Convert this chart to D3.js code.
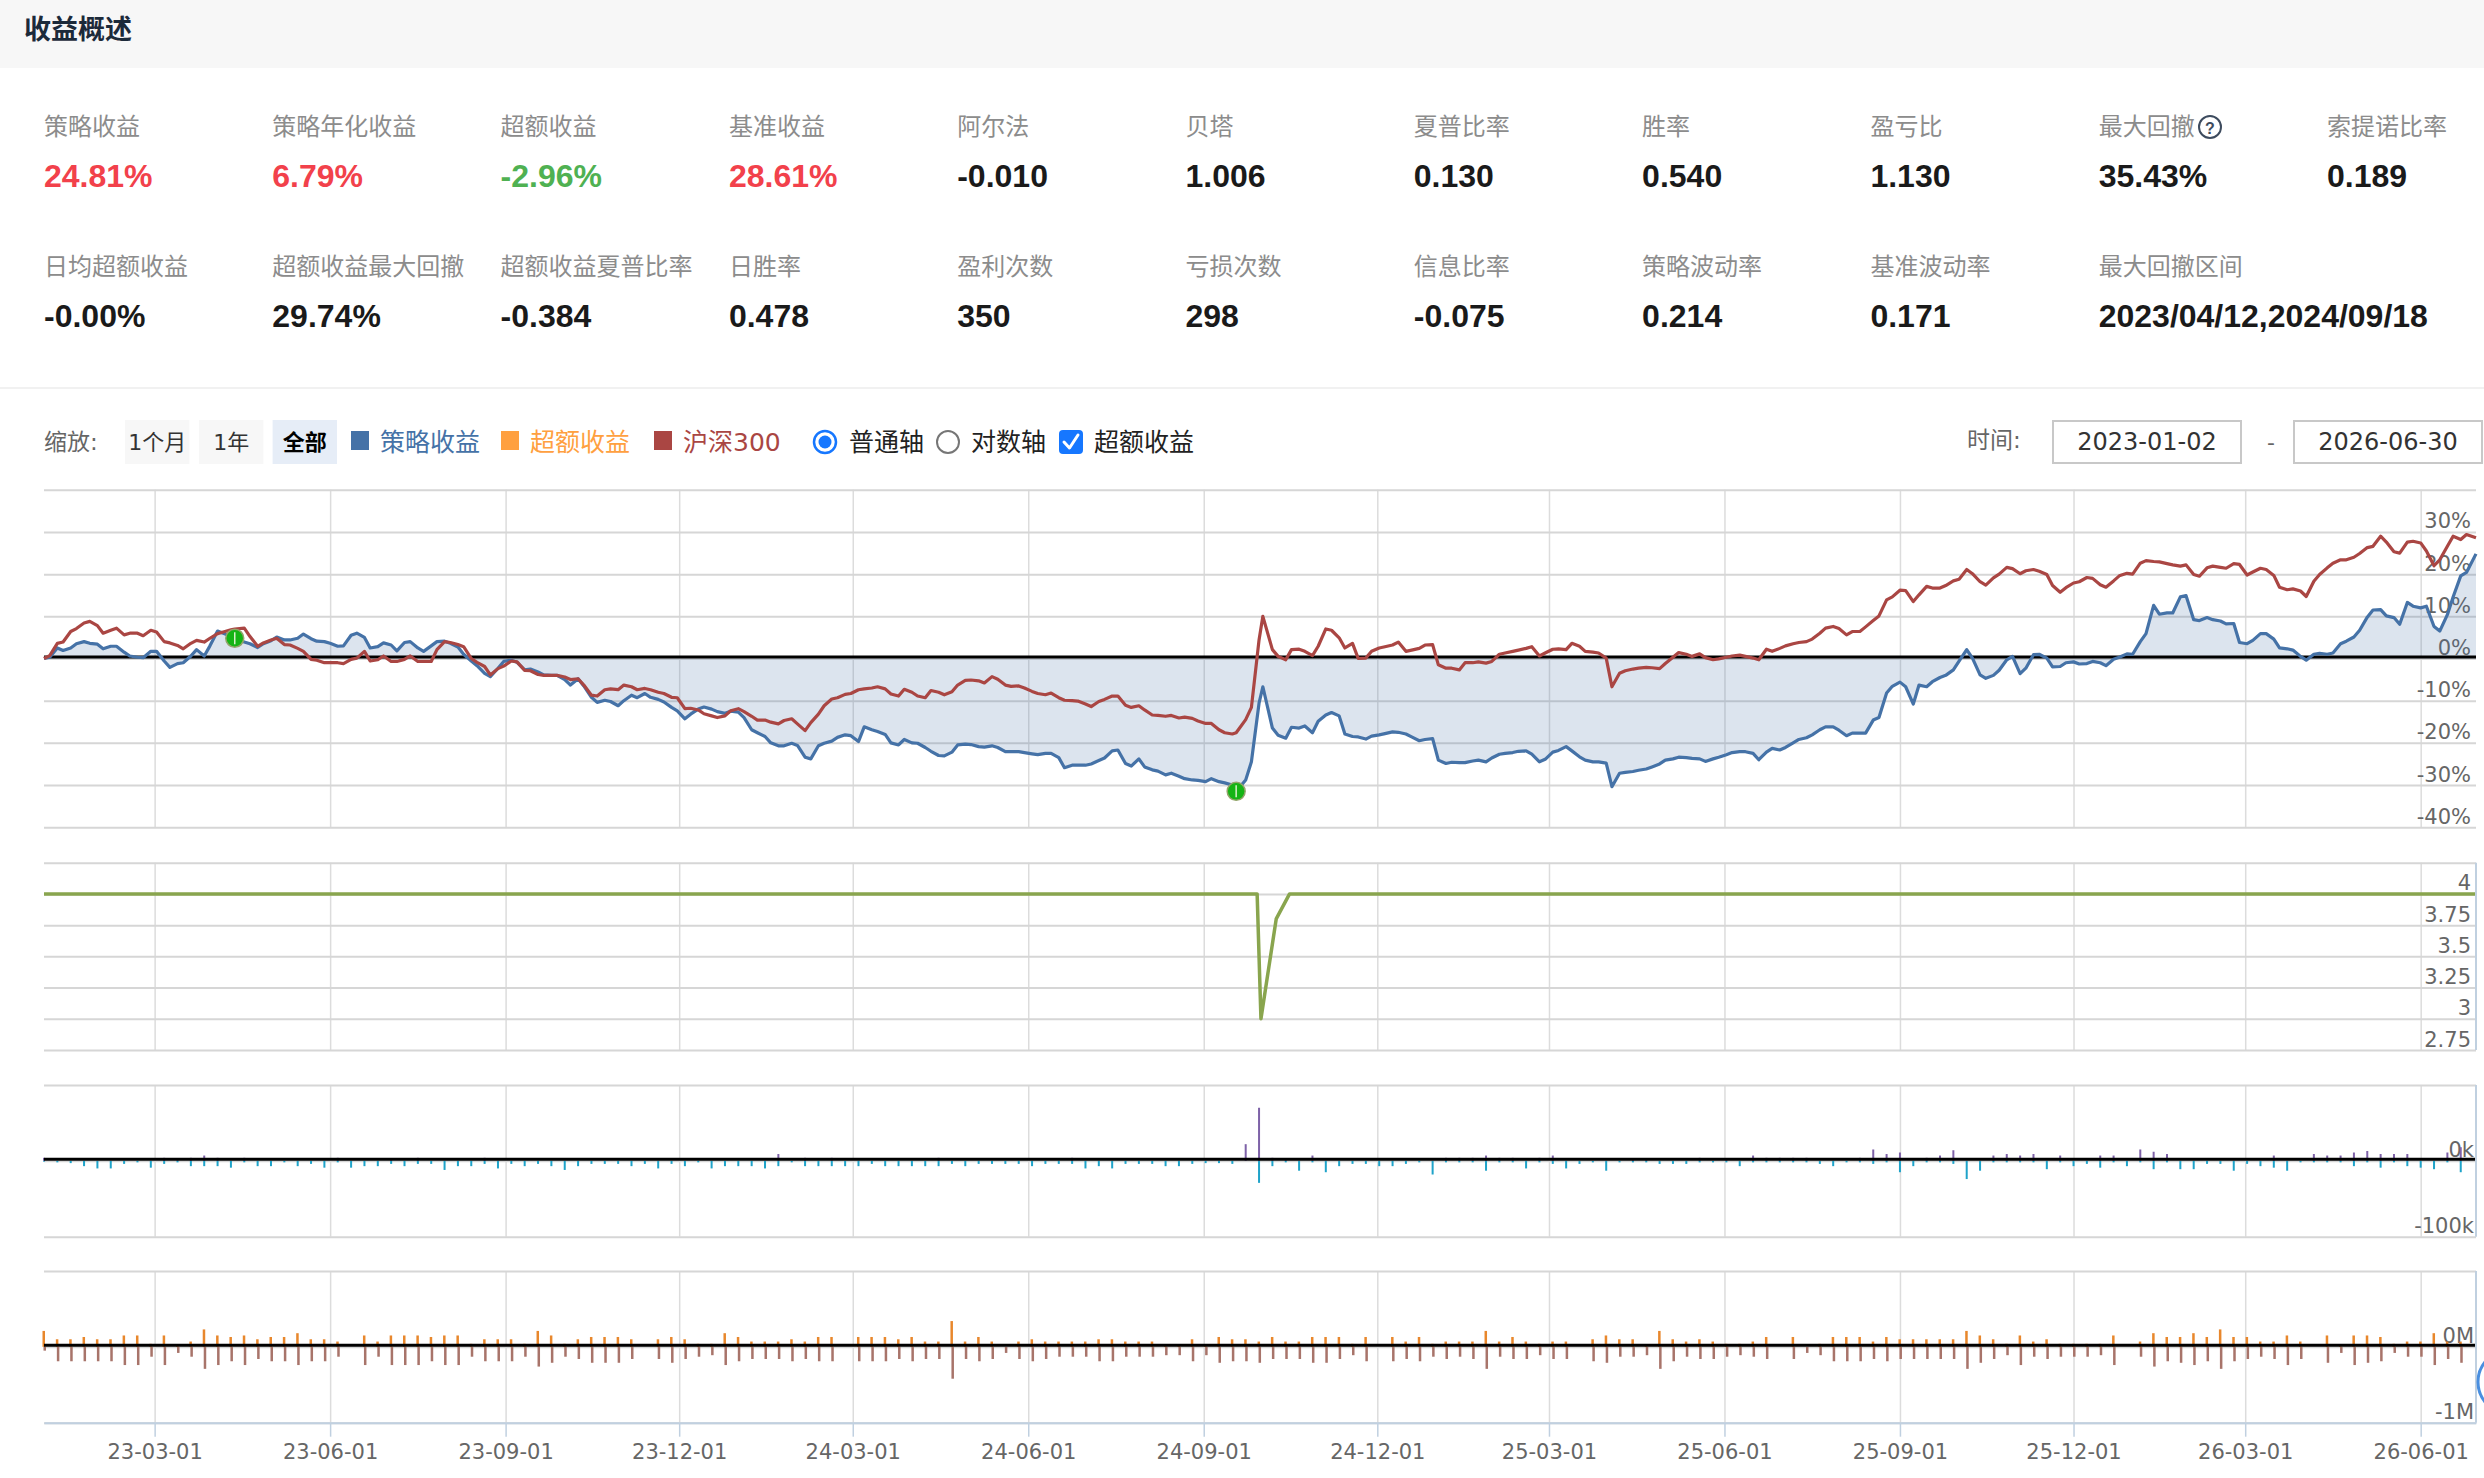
<!DOCTYPE html>
<html>
<head>
<meta charset="utf-8">
<title>收益概述</title>
<script src="https://d3js.org/d3.v7.min.js"></script>
<style>
  html, body { margin: 0; padding: 0; background: #fff; }
  svg { display: block; }
  .cjk { font-family: "Noto Sans CJK SC", "Noto Sans", sans-serif; }
  .num { font-family: "Liberation Sans", Arial, sans-serif; }
  .axis text { font-family: "DejaVu Sans", sans-serif; font-size: 21px; fill: #666; }
</style>
</head>
<body>
<svg id="chart" width="2484" height="1478"></svg>
<script>
// ---- summary metrics ----
var metricLabelsTop = ['策略收益','策略年化收益','超额收益','基准收益','阿尔法','贝塔','夏普比率','胜率','盈亏比','最大回撤','索提诺比率'];
var metricValuesTop = ['24.81%','6.79%','-2.96%','28.61%','-0.010','1.006','0.130','0.540','1.130','35.43%','0.189'];
var metricLabelsBottom = ['日均超额收益','超额收益最大回撤','超额收益夏普比率','日胜率','盈利次数','亏损次数','信息比率','策略波动率','基准波动率','最大回撤区间'];
var metricValuesBottom = ['-0.00%','29.74%','-0.384','0.478','350','298','-0.075','0.214','0.171','2023/04/12,2024/09/18'];

var zoomButtons = ['1个月','1年','全部'];
var legendNames = ['策略收益','超额收益','沪深300'];
var dateRange = ['2023-01-02','2026-06-30'];

// ---- return curves (twice a week) ----
var retDates = [
'2023-01-02','2023-01-05','2023-01-09','2023-01-12','2023-01-16','2023-01-19','2023-01-23','2023-01-26','2023-01-30',
'2023-02-02','2023-02-06','2023-02-09','2023-02-13','2023-02-16','2023-02-20','2023-02-23','2023-02-27',
'2023-03-02','2023-03-06','2023-03-09','2023-03-13','2023-03-16','2023-03-20','2023-03-23','2023-03-27','2023-03-30',
'2023-04-03','2023-04-06','2023-04-10','2023-04-12','2023-04-17','2023-04-20','2023-04-24','2023-04-27',
'2023-05-01','2023-05-04','2023-05-08','2023-05-11','2023-05-15','2023-05-18','2023-05-22','2023-05-25','2023-05-29',
'2023-06-01','2023-06-05','2023-06-08','2023-06-12','2023-06-15','2023-06-19','2023-06-22','2023-06-26','2023-06-29',
'2023-07-03','2023-07-06','2023-07-10','2023-07-13','2023-07-17','2023-07-20','2023-07-24','2023-07-27','2023-07-31',
'2023-08-03','2023-08-07','2023-08-10','2023-08-14','2023-08-17','2023-08-21','2023-08-24','2023-08-28','2023-08-31',
'2023-09-04','2023-09-07','2023-09-11','2023-09-14','2023-09-18','2023-09-21','2023-09-25','2023-09-28',
'2023-10-02','2023-10-05','2023-10-09','2023-10-12','2023-10-16','2023-10-19','2023-10-23','2023-10-26','2023-10-30',
'2023-11-02','2023-11-06','2023-11-09','2023-11-13','2023-11-16','2023-11-20','2023-11-23','2023-11-27','2023-11-30',
'2023-12-04','2023-12-07','2023-12-11','2023-12-14','2023-12-18','2023-12-21','2023-12-25','2023-12-28',
'2024-01-01','2024-01-04','2024-01-08','2024-01-11','2024-01-15','2024-01-18','2024-01-22','2024-01-25','2024-01-29',
'2024-02-01','2024-02-05','2024-02-08','2024-02-12','2024-02-15','2024-02-19','2024-02-22','2024-02-26','2024-02-29',
'2024-03-04','2024-03-07','2024-03-11','2024-03-14','2024-03-18','2024-03-21','2024-03-25','2024-03-28',
'2024-04-01','2024-04-04','2024-04-08','2024-04-11','2024-04-15','2024-04-18','2024-04-22','2024-04-25','2024-04-29',
'2024-05-02','2024-05-06','2024-05-09','2024-05-13','2024-05-16','2024-05-20','2024-05-23','2024-05-27','2024-05-30',
'2024-06-03','2024-06-06','2024-06-10','2024-06-13','2024-06-17','2024-06-20','2024-06-24','2024-06-27',
'2024-07-01','2024-07-04','2024-07-08','2024-07-11','2024-07-15','2024-07-18','2024-07-22','2024-07-25','2024-07-29',
'2024-08-01','2024-08-05','2024-08-08','2024-08-12','2024-08-15','2024-08-19','2024-08-22','2024-08-26','2024-08-29',
'2024-09-02','2024-09-05','2024-09-09','2024-09-12','2024-09-16','2024-09-18','2024-09-23','2024-09-26','2024-09-30',
'2024-10-02','2024-10-07','2024-10-10','2024-10-14','2024-10-17','2024-10-21','2024-10-24','2024-10-28','2024-10-31',
'2024-11-04','2024-11-07','2024-11-11','2024-11-14','2024-11-18','2024-11-21','2024-11-25','2024-11-28',
'2024-12-02','2024-12-05','2024-12-09','2024-12-12','2024-12-16','2024-12-19','2024-12-23','2024-12-26','2024-12-30',
'2025-01-02','2025-01-06','2025-01-09','2025-01-13','2025-01-16','2025-01-20','2025-01-23','2025-01-27','2025-01-30',
'2025-02-03','2025-02-06','2025-02-10','2025-02-13','2025-02-17','2025-02-20','2025-02-24','2025-02-27',
'2025-03-03','2025-03-06','2025-03-10','2025-03-13','2025-03-17','2025-03-20','2025-03-24','2025-03-27','2025-03-31',
'2025-04-03','2025-04-07','2025-04-10','2025-04-14','2025-04-17','2025-04-21','2025-04-24','2025-04-28',
'2025-05-01','2025-05-05','2025-05-08','2025-05-12','2025-05-15','2025-05-19','2025-05-22','2025-05-26','2025-05-29',
'2025-06-02','2025-06-05','2025-06-09','2025-06-12','2025-06-16','2025-06-19','2025-06-23','2025-06-26','2025-06-30',
'2025-07-03','2025-07-07','2025-07-10','2025-07-14','2025-07-17','2025-07-21','2025-07-24','2025-07-28','2025-07-31',
'2025-08-04','2025-08-07','2025-08-11','2025-08-14','2025-08-18','2025-08-21','2025-08-25','2025-08-28',
'2025-09-01','2025-09-04','2025-09-08','2025-09-11','2025-09-15','2025-09-18','2025-09-22','2025-09-25','2025-09-29',
'2025-10-02','2025-10-06','2025-10-09','2025-10-13','2025-10-16','2025-10-20','2025-10-23','2025-10-27','2025-10-30',
'2025-11-03','2025-11-06','2025-11-10','2025-11-13','2025-11-17','2025-11-20','2025-11-24','2025-11-27',
'2025-12-01','2025-12-04','2025-12-08','2025-12-11','2025-12-15','2025-12-18','2025-12-22','2025-12-25','2025-12-29',
'2026-01-01','2026-01-05','2026-01-08','2026-01-12','2026-01-15','2026-01-19','2026-01-22','2026-01-26','2026-01-29',
'2026-02-02','2026-02-05','2026-02-09','2026-02-12','2026-02-16','2026-02-19','2026-02-23','2026-02-26',
'2026-03-02','2026-03-05','2026-03-09','2026-03-12','2026-03-16','2026-03-19','2026-03-23','2026-03-26','2026-03-30',
'2026-04-02','2026-04-06','2026-04-09','2026-04-13','2026-04-16','2026-04-20','2026-04-23','2026-04-27','2026-04-30',
'2026-05-04','2026-05-07','2026-05-11','2026-05-14','2026-05-18','2026-05-21','2026-05-25','2026-05-28',
'2026-06-01','2026-06-04','2026-06-08','2026-06-11','2026-06-15','2026-06-18','2026-06-22','2026-06-25','2026-06-30'
];

// 策略收益 (%)
var strategy = [
0.0, 0.3, 2.5, 1.9, 2.5, 3.5, 4.0, 3.6, 3.4,
2.3, 2.9, 2.9, 1.5, 0.6, 0.3, 0.2, 1.7,
1.7, -0.6, -2.1, -1.2, -1.0, 0.6, 2.1, 0.6, 3.0,
6.5, 6.0, 5.3, 4.8, 3.9, 3.5, 2.6, 3.5,
4.2, 5.1, 4.4, 4.4, 4.8, 5.8, 4.7, 4.1, 4.0,
3.6, 2.9, 3.0, 5.5, 6.0, 5.0, 2.5, 2.8, 3.7,
3.2, 1.8, 3.8, 4.0, 2.5, 1.7, 3.0, 4.0, 4.1,
3.6, 2.7, 1.0, -0.6, -1.7, -3.5, -4.3, -2.3, -0.7,
-0.4, -0.9, -2.7, -2.5, -3.2, -3.9, -4.0, -4.0,
-5.0, -6.3, -4.8, -6.5, -9.2, -10.4, -9.9, -10.2, -11.2,
-10.0, -8.7, -9.3, -8.3, -9.2, -9.7, -10.3, -11.6, -12.4,
-14.3, -13.2, -12.0, -11.5, -12.0, -12.6, -13.0, -12.5,
-12.7, -14.0, -16.9, -17.6, -18.5, -20.0, -20.7, -20.7, -20.1,
-20.6, -23.4, -23.8, -20.7, -20.1, -19.6, -18.7, -18.1, -18.3,
-19.7, -16.2, -16.9, -17.3, -18.0, -20.0, -20.5, -19.2,
-20.0, -20.1, -21.1, -22.0, -23.0, -23.1, -22.2, -20.5, -20.3,
-20.4, -20.9, -21.0, -20.7, -21.1, -22.1, -22.1, -22.1, -22.3,
-22.6, -22.8, -22.5, -22.5, -23.5, -25.9, -25.3, -25.3,
-25.3, -25.0, -24.2, -23.6, -21.9, -21.7, -24.9, -25.5, -23.8,
-25.7, -26.4, -26.7, -27.6, -27.2, -27.9, -28.5, -28.8, -28.9,
-29.2, -28.5, -29.2, -29.5, -30.0, -31.5, -28.8, -24.5, -10.6,
-6.7, -16.5, -18.2, -18.9, -16.3, -16.5, -16.0, -17.6, -14.9,
-13.4, -12.8, -13.6, -17.9, -18.5, -18.6, -19.1, -18.4,
-18.1, -17.8, -17.4, -17.5, -17.9, -18.6, -19.5, -19.2, -19.0,
-24.1, -24.9, -24.6, -24.7, -24.7, -24.3, -24.1, -24.5, -23.6,
-22.7, -22.5, -22.3, -22.0, -21.9, -22.7, -24.5, -23.9,
-22.2, -21.8, -20.9, -21.9, -23.3, -24.1, -24.5, -24.5, -24.8,
-30.4, -27.2, -27.0, -26.8, -26.5, -26.2, -25.7, -25.0,
-24.1, -23.8, -23.4, -23.5, -23.7, -23.8, -24.4, -23.8, -23.4,
-22.8, -22.3, -22.1, -22.1, -22.5, -24.0, -22.2, -21.3, -21.7,
-21.1, -20.0, -19.2, -18.8, -18.1, -16.9, -16.2, -16.2, -17.0,
-18.3, -17.7, -17.7, -17.7, -14.6, -14.0, -8.2, -6.6,
-5.6, -6.7, -10.8, -6.3, -6.7, -5.5, -4.5, -4.0, -2.7,
-0.6, 2.1, 0.1, -3.9, -4.7, -4.0, -2.8, -0.3, 0.5,
-3.6, -2.3, 0.9, 1.0, 0.1, -2.0, -1.9, -1.0,
-0.8, -1.3, -1.2, -0.7, -1.0, -1.7, -0.2, 0.3, 1.1,
1.0, 4.0, 5.9, 12.6, 10.5, 10.8, 10.8, 14.6, 14.9,
9.2, 9.0, 9.7, 9.2, 8.9, 8.2, 8.3, 3.8,
3.5, 4.3, 5.9, 5.9, 4.6, 2.5, 2.3, 2.0, 0.5,
-0.4, 1.0, 1.2, 1.0, 1.3, 3.5, 4.1, 5.1, 6.7,
9.8, 11.5, 11.6, 10.1, 9.7, 8.1, 13.3, 12.4,
12.0, 12.4, 7.6, 6.5, 10.4, 14.6, 19.6, 20.4, 24.81
];

// 沪深300 (%)
var benchmark = [
0.0, 0.7, 3.6, 3.9, 6.4, 7.1, 8.4, 8.8, 7.8,
6.0, 6.7, 7.2, 5.6, 6.0, 6.0, 5.4, 6.7,
6.3, 4.0, 3.7, 3.1, 2.3, 3.6, 4.3, 3.9, 4.8,
5.9, 6.3, 6.8, 7.0, 7.2, 5.2, 2.9, 3.7,
4.4, 4.8, 3.3, 3.2, 2.4, 1.7, -0.2, -0.4, -1.0,
-1.0, -1.0, -1.2, -0.2, 0.1, 1.7, -0.6, -0.3, 0.6,
-0.7, -0.7, -0.2, 0.6, -0.7, -0.7, -0.7, 2.1, 4.0,
3.8, 3.3, 2.8, 0.0, -0.9, -1.9, -3.9, -2.4, -1.8,
-0.6, -0.8, -2.8, -2.9, -3.8, -4.0, -4.0, -4.0,
-4.4, -5.0, -4.8, -6.3, -8.7, -8.9, -7.4, -7.2, -7.4,
-6.3, -6.7, -7.4, -7.1, -7.4, -8.0, -8.3, -9.2, -9.3,
-11.9, -11.8, -12.2, -13.1, -13.6, -14.0, -13.6, -12.4,
-11.9, -12.6, -13.7, -14.6, -14.6, -15.1, -15.5, -14.7, -14.3,
-15.5, -17.1, -15.2, -13.2, -11.2, -9.6, -9.3, -8.5, -8.3,
-7.4, -7.2, -7.0, -6.7, -7.2, -8.4, -8.9, -7.3,
-8.0, -8.9, -9.3, -7.6, -8.0, -8.6, -7.9, -6.3, -5.2,
-5.1, -5.3, -5.8, -4.3, -4.9, -6.3, -6.6, -6.5, -7.0,
-7.8, -8.3, -8.6, -8.2, -9.3, -9.9, -10.0, -10.1,
-10.8, -11.4, -10.2, -9.7, -8.9, -8.9, -11.1, -11.6, -11.2,
-12.2, -13.4, -13.5, -13.7, -13.5, -14.1, -13.9, -14.2, -14.8,
-15.4, -15.4, -16.9, -17.6, -17.9, -17.6, -14.5, -11.6, 4.4,
10.0, 2.1, 0.5, -0.3, 2.1, 2.2, 1.7, 0.7, 2.9,
7.0, 6.7, 4.9, 2.5, 3.6, 0.0, 0.1, 1.7,
2.5, 2.8, 3.2, 3.9, 1.7, 2.0, 2.4, 3.2, 3.3,
-1.5, -2.3, -2.3, -2.7, -1.0, -1.0, -0.8, -1.1, -0.7,
1.0, 1.3, 1.7, 2.0, 2.4, 2.8, 0.6, 1.3,
2.2, 2.3, 2.1, 3.6, 2.9, 1.7, 1.5, 1.3, 0.1,
-6.7, -3.5, -2.9, -2.5, -2.3, -2.1, -2.2, -2.4,
-1.2, 0.3, 1.4, 1.0, 0.5, 1.1, 0.2, -0.3, -0.1,
0.3, 0.6, 0.8, 0.5, 0.1, -0.3, 2.2, 1.7, 2.4,
3.0, 3.5, 3.8, 4.0, 4.6, 6.0, 7.2, 7.6, 7.1,
5.6, 6.4, 6.4, 7.5, 9.0, 10.1, 13.9, 14.6,
16.2, 16.1, 13.5, 15.1, 17.1, 16.7, 16.7, 17.3, 18.4,
18.8, 21.1, 20.1, 18.2, 17.4, 19.1, 20.0, 21.6, 21.3,
20.1, 20.8, 21.1, 20.7, 19.9, 17.3, 15.7, 16.8,
17.9, 18.2, 19.2, 19.0, 17.5, 16.9, 18.4, 19.6, 20.2,
20.0, 22.6, 23.2, 23.0, 22.9, 22.5, 22.2, 21.9, 22.2,
19.9, 19.5, 21.5, 21.9, 21.6, 21.4, 22.5, 22.3,
19.8, 20.5, 21.4, 21.1, 19.7, 16.9, 16.3, 16.5, 16.0,
14.7, 18.3, 19.9, 21.5, 22.6, 23.4, 23.4, 24.0, 24.9,
26.3, 26.6, 29.0, 27.6, 25.3, 25.0, 27.6, 27.8,
27.4, 25.5, 22.0, 23.4, 26.6, 29.0, 28.2, 29.4, 28.61
];

// ---- weekly bars (lower panels) ----
var barDates = [
'2023-01-02','2023-01-09','2023-01-16','2023-01-23','2023-01-30',
'2023-02-06','2023-02-13','2023-02-20','2023-02-27',
'2023-03-06','2023-03-13','2023-03-20','2023-03-27',
'2023-04-03','2023-04-10','2023-04-12','2023-04-17','2023-04-24',
'2023-05-01','2023-05-08','2023-05-15','2023-05-22','2023-05-29',
'2023-06-05','2023-06-12','2023-06-19','2023-06-26',
'2023-07-03','2023-07-10','2023-07-17','2023-07-24','2023-07-31',
'2023-08-07','2023-08-14','2023-08-21','2023-08-28',
'2023-09-04','2023-09-11','2023-09-18','2023-09-25',
'2023-10-02','2023-10-09','2023-10-16','2023-10-23','2023-10-30',
'2023-11-06','2023-11-13','2023-11-20','2023-11-27',
'2023-12-04','2023-12-11','2023-12-18','2023-12-25',
'2024-01-01','2024-01-08','2024-01-15','2024-01-22','2024-01-29',
'2024-02-05','2024-02-12','2024-02-19','2024-02-26',
'2024-03-04','2024-03-11','2024-03-18','2024-03-25',
'2024-04-01','2024-04-08','2024-04-15','2024-04-22','2024-04-29',
'2024-05-06','2024-05-13','2024-05-20','2024-05-27',
'2024-06-03','2024-06-10','2024-06-17','2024-06-24',
'2024-07-01','2024-07-08','2024-07-15','2024-07-22','2024-07-29',
'2024-08-05','2024-08-12','2024-08-19','2024-08-26',
'2024-09-02','2024-09-09','2024-09-16','2024-09-18','2024-09-23','2024-09-27','2024-09-30',
'2024-10-02','2024-10-07','2024-10-14','2024-10-21','2024-10-28',
'2024-11-04','2024-11-11','2024-11-18','2024-11-25',
'2024-12-02','2024-12-09','2024-12-16','2024-12-23','2024-12-30',
'2025-01-06','2025-01-13','2025-01-20','2025-01-27',
'2025-02-03','2025-02-10','2025-02-17','2025-02-24',
'2025-03-03','2025-03-10','2025-03-17','2025-03-24','2025-03-31',
'2025-04-02','2025-04-07','2025-04-14','2025-04-21','2025-04-28',
'2025-05-05','2025-05-12','2025-05-19','2025-05-26',
'2025-06-02','2025-06-09','2025-06-16','2025-06-23','2025-06-30',
'2025-07-07','2025-07-14','2025-07-21','2025-07-28',
'2025-08-04','2025-08-11','2025-08-18','2025-08-25',
'2025-09-01','2025-09-08','2025-09-15','2025-09-22','2025-09-29',
'2025-10-06','2025-10-13','2025-10-20','2025-10-27',
'2025-11-03','2025-11-10','2025-11-17','2025-11-24',
'2025-12-01','2025-12-08','2025-12-15','2025-12-22','2025-12-29',
'2026-01-05','2026-01-12','2026-01-19','2026-01-26',
'2026-02-02','2026-02-09','2026-02-16','2026-02-23',
'2026-03-02','2026-03-09','2026-03-16','2026-03-23','2026-03-30',
'2026-04-06','2026-04-13','2026-04-20','2026-04-27',
'2026-05-04','2026-05-11','2026-05-18','2026-05-25',
'2026-06-01','2026-06-08','2026-06-15','2026-06-22','2026-06-30'
];

// third panel: buys (up) and sells (down), thousands
var buyK = [
4,0,0,0,0, 0,0,0,0, 4,2,4,7, 4,0,0,4,0, 0,0,0,0,0, 4,0,0,0, 2,0,4,0,0, 0,0,4,0, 0,0,0,0, 0,0,0,0,0, 0,0,0,0, 0,0,0,0,
0,0,0,9,0, 4,0,4,0, 0,0,0,0, 0,0,4,0,0, 0,0,0,0, 0,0,0,4, 0,0,0,0,0, 0,0,0,0, 0,0,0,0,22,0,70, 0,4,3,0,7, 0,0,0,0, 0,0,0,0,0,
4,4,4,7, 4,4,0,4, 7,0,0,0,0, 0,0,2,2,0, 0,0,4,0, 2,0,7,4,4, 4,4,0,0, 0,4,15,9, 11,0,4,7,14, 0,0,7,9, 7,9,0,7, 0,0,7,7,0,
15,12,9,0, 0,0,0,0, 0,0,7,0,0, 9,7,7,11, 13,9,9,9, 0,0,11,18,0
];
var sellK = [
1,2,3,7,10, 10,4,2,9, 4,2,7,7, 7,9,0,2,7, 7,2,7,4,9, 2,9,7,7, 4,7,4,4,12, 7,7,4,10, 4,7,4,7, 12,7,4,4,4, 7,4,10,4, 7,2,10,7,
7,7,10,7,2, 7,7,7,7, 7,4,7,7, 7,7,7,4,7, 4,4,4,4, 7,4,4,4, 10,7,10,4,4, 4,7,7,4, 3,3,4,0,0,0,29, 0,7,2,13,2, 15,7,4,4, 7,7,4,2,18,
2,2,2,13, 2,2,10,2, 4,10,4,2,13, 0,2,2,2,4, 4,4,2,2, 2,7,2,2,2, 2,2,4,7, 2,2,4,2, 15,7,2,2,4, 24,13,2,2, 2,2,11,2, 7,4,9,2,7,
2,11,2,11, 11,4,4,13, 4,7,9,13,2, 2,2,2,7, 2,9,2,7, 9,11,2,15,0
];

// fourth panel: long (up) and short (down), millions
var longM = [
0.21,0.10,0.10,0.13,0.10, 0.10,0.15,0.15,0.04, 0.15,0.02,0.07,0.23, 0.15,0.13,0,0.15,0.10, 0.13,0.13,0.18,0.10,0.10,
0.07,0,0.15,0.07, 0.15,0.15,0.15,0.13,0.15, 0.15,0.04,0.10,0.10, 0.10,0.04,0.21,0.15, 0.04,0.10,0.13,0.13,0.13,
0.10,0,0.10,0.13, 0.10,0.04,0.04,0.18,
0.13,0.07,0.07,0.07,0.10, 0.07,0.13,0.13,0, 0.13,0.13,0.13,0.10, 0.13,0.07,0.07,0.34,0.07, 0.13,0.07,0.00,0.07,
0.10,0.07,0.07,0.07, 0.07,0.10,0.10,0.07,0.07, 0.07,0.02,0.02,0.10, 0.02,0.13,0.10,0,0.10,0,0.07,
0,0.13,0.07,0.07,0.13, 0.13,0.13,0.04,0.13, 0,0.13,0.07,0.13,0.04,
0.07,0.07,0.07,0.21, 0.07,0.13,0.07,0.04, 0.07,0.07,0,0.10,0.15, 0,0.10,0.10,0.02,0.21, 0.10,0.07,0.10,0.07,
0.04,0.04,0.07,0.13,0, 0.13,0.00,0.04,0.13, 0.13,0.13,0.07,0.13, 0.10,0.10,0.10,0.10,0.10, 0.21,0.15,0.10,0.04,
0.15,0.07,0.10,0.04, 0.04,0.04,0.04,0.15,0,
0.07,0.18,0.13,0.13, 0.18,0.13,0.23,0.13, 0.13,0.07,0.07,0.15,0.07, 0,0.15,0.02,0.15, 0.15,0.13,0.04,0.07,
0.07,0.18,0.07,0.07,0
];
var shortM = [
0.05,0.19,0.19,0.19,0.19, 0.19,0.24,0.24,0.13, 0.24,0.08,0.13,0.29, 0.24,0.19,0,0.24,0.16, 0.19,0.19,0.24,0.19,0.19,
0.13,0,0.24,0.13, 0.24,0.24,0.24,0.19,0.24, 0.24,0.13,0.19,0.19, 0.19,0.13,0.26,0.21, 0.13,0.16,0.21,0.21,0.21,
0.16,0,0.16,0.21, 0.16,0.13,0.11,0.24,
0.19,0.16,0.16,0.16,0.19, 0.16,0.19,0.19,0, 0.19,0.19,0.19,0.16, 0.19,0.16,0.16,0.42,0.16, 0.19,0.16,0.08,0.16,
0.19,0.16,0.13,0.13, 0.13,0.19,0.19,0.13,0.13, 0.13,0.11,0.11,0.19, 0.11,0.21,0.19,0,0.19,0,0.21,
0,0.16,0.16,0.16,0.21, 0.21,0.16,0.11,0.19, 0,0.19,0.16,0.19,0.13,
0.16,0.13,0.16,0.29, 0.13,0.16,0.16,0.11, 0.16,0.16,0,0.19,0.21, 0,0.13,0.13,0.11,0.29, 0.19,0.13,0.16,0.16,
0.13,0.11,0.13,0.16,0, 0.16,0.08,0.11,0.19, 0.19,0.19,0.16,0.19, 0.16,0.16,0.16,0.16,0.16, 0.29,0.21,0.16,0.11,
0.24,0.13,0.16,0.13, 0.13,0.13,0.11,0.24,0,
0.13,0.26,0.19,0.21, 0.24,0.19,0.29,0.19, 0.16,0.13,0.16,0.24,0.16, 0,0.21,0.08,0.24, 0.21,0.19,0.08,0.13,
0.13,0.24,0.16,0.21,0
];

// second panel: leverage line
var levDates = ['2023-01-02','2024-09-29','2024-10-01','2024-10-09','2024-10-16','2026-06-30'];
var levValues = [4, 4, 3, 3.8, 4, 4];

// max drawdown interval markers
var drawdownDates = ['2023-04-12','2024-09-18'];

// axis ticks
var xTicks = ['2023-03-01','2023-06-01','2023-09-01','2023-12-01','2024-03-01','2024-06-01','2024-09-01',
              '2024-12-01','2025-03-01','2025-06-01','2025-09-01','2025-12-01','2026-03-01','2026-06-01'];
var retTicks = [-40,-30,-20,-10,0,10,20,30,40];
var levTicks = [2.75,3,3.25,3.5,3.75,4,4.25];
var tradeTicks = [-100,0,100];
var posTicks = [-1,0,1];

// ------------------------------------------------------------------
var W = 2484, H = 1478;
var plotL = 44, plotR = 2476;
var parseDay = d3.timeParse('%Y-%m-%d');
var svg = d3.select('#chart');

if (strategy.length !== retDates.length || benchmark.length !== retDates.length) {
  console.warn('return series length mismatch', retDates.length, strategy.length, benchmark.length);
}
if (buyK.length !== barDates.length || sellK.length !== barDates.length ||
    longM.length !== barDates.length || shortM.length !== barDates.length) {
  console.warn('bar series length mismatch', barDates.length, buyK.length, sellK.length, longM.length, shortM.length);
}

var retRows = retDates.map(function(d, i) {
  return { date: parseDay(d), strat: strategy[i], bench: benchmark[i] };
});
var barRows = barDates.map(function(d, i) {
  return { date: parseDay(d), buy: buyK[i], sell: sellK[i], lng: longM[i], sht: shortM[i] };
});

// ---- header ----
svg.append('rect').attr('x', 0).attr('y', 0).attr('width', W).attr('height', 68).attr('fill', '#f7f7f7');
svg.append('text').attr('class', 'cjk').attr('x', 24).attr('y', 27)
  .attr('dominant-baseline', 'central').attr('font-size', 27).attr('font-weight', 700)
  .attr('fill', '#1c2a3a').text('收益概述');

function colX(i) { return 44 + i * 228.3; }
var red = '#f2414b', green = '#4fb152', dark = '#1a1a1a';

function metricRow(labels, values, labelY, valueY, colored) {
  labels.forEach(function(l, i) {
    svg.append('text').attr('class', 'cjk').attr('x', colX(i)).attr('y', labelY)
      .attr('dominant-baseline', 'central').attr('font-size', 24).attr('fill', '#8c8c8c').text(l);
    var v = values[i];
    var c = dark;
    if (colored && i < 4) c = v.charAt(0) === '-' ? green : red;
    svg.append('text').attr('class', 'num').attr('x', colX(i)).attr('y', valueY)
      .attr('font-size', 32).attr('font-weight', 700).attr('fill', c).text(v);
  });
}
metricRow(metricLabelsTop, metricValuesTop, 124, 187, true);
metricRow(metricLabelsBottom, metricValuesBottom, 264, 327, false);

// help icon next to 最大回撤
svg.append('circle').attr('cx', 2210).attr('cy', 127).attr('r', 11)
  .attr('fill', 'none').attr('stroke', '#3d4b5e').attr('stroke-width', 2);
svg.append('text').attr('class', 'num').attr('x', 2210).attr('y', 128)
  .attr('text-anchor', 'middle').attr('dominant-baseline', 'central')
  .attr('font-size', 16).attr('font-weight', 700).attr('fill', '#3d4b5e').text('?');

svg.append('line').attr('x1', 0).attr('x2', W).attr('y1', 388).attr('y2', 388)
  .attr('stroke', '#ececec').attr('stroke-width', 1.5);

// ---- toolbar ----
var tbY = 442;
var tbFont = '"DejaVu Sans", "Noto Sans CJK SC", sans-serif';
svg.append('text').attr('x', 44).attr('y', tbY).attr('dominant-baseline', 'central')
  .style('font-family', tbFont).attr('font-size', 23).attr('fill', '#666').text('缩放:');
var btnX = [125, 199, 272.6];
zoomButtons.forEach(function(b, i) {
  var last = i === zoomButtons.length - 1;
  svg.append('rect').attr('x', btnX[i]).attr('y', 420).attr('width', 64.4).attr('height', 44)
    .attr('fill', last ? '#e6edf7' : '#f7f7f7');
  svg.append('text').attr('x', btnX[i] + 32.2).attr('y', tbY).attr('text-anchor', 'middle')
    .attr('dominant-baseline', 'central').style('font-family', tbFont).attr('font-size', 22)
    .attr('font-weight', last ? 700 : 400).attr('fill', last ? '#000' : '#333').text(b);
});
var legendColors = ['#4572a7', '#ffa040', '#aa4643'];
var legSq = [351, 501, 654];
legendNames.forEach(function(n, i) {
  svg.append('rect').attr('x', legSq[i]).attr('y', 431).attr('width', 18).attr('height', 19).attr('fill', legendColors[i]);
  svg.append('text').attr('x', legSq[i] + 29).attr('y', tbY).attr('dominant-baseline', 'central')
    .style('font-family', tbFont).attr('font-size', 25).attr('fill', legendColors[i]).text(n);
});
var blue = '#1677ff';
svg.append('circle').attr('cx', 825).attr('cy', tbY).attr('r', 11).attr('fill', '#fff')
  .attr('stroke', blue).attr('stroke-width', 2.5);
svg.append('circle').attr('cx', 825).attr('cy', tbY).attr('r', 6.5).attr('fill', blue);
svg.append('text').attr('x', 849).attr('y', tbY).attr('dominant-baseline', 'central')
  .style('font-family', tbFont).attr('font-size', 25).attr('fill', '#222').text('普通轴');
svg.append('circle').attr('cx', 948).attr('cy', tbY).attr('r', 11).attr('fill', '#fff')
  .attr('stroke', '#767676').attr('stroke-width', 2);
svg.append('text').attr('x', 971).attr('y', tbY).attr('dominant-baseline', 'central')
  .style('font-family', tbFont).attr('font-size', 25).attr('fill', '#222').text('对数轴');
svg.append('rect').attr('x', 1059).attr('y', 430).attr('width', 24).attr('height', 24).attr('rx', 4).attr('fill', blue);
svg.append('path').attr('d', 'M1064,442 L1069.5,448 L1078,435').attr('fill', 'none')
  .attr('stroke', '#fff').attr('stroke-width', 3).attr('stroke-linecap', 'round').attr('stroke-linejoin', 'round');
svg.append('text').attr('x', 1094).attr('y', tbY).attr('dominant-baseline', 'central')
  .style('font-family', tbFont).attr('font-size', 25).attr('fill', '#222').text('超额收益');

svg.append('text').attr('x', 1967).attr('y', tbY - 2).attr('dominant-baseline', 'central')
  .style('font-family', tbFont).attr('font-size', 23).attr('fill', '#666').text('时间:');
var boxX = [2053, 2294];
dateRange.forEach(function(d, i) {
  svg.append('rect').attr('x', boxX[i]).attr('y', 421).attr('width', 188).attr('height', 42)
    .attr('fill', '#fff').attr('stroke', '#c8c8c8').attr('stroke-width', 2);
  svg.append('text').attr('x', boxX[i] + 94).attr('y', tbY).attr('text-anchor', 'middle')
    .attr('dominant-baseline', 'central').style('font-family', '"DejaVu Sans", sans-serif')
    .attr('font-size', 24).attr('fill', '#333').text(d);
});
svg.append('text').attr('x', 2271).attr('y', tbY).attr('text-anchor', 'middle')
  .attr('dominant-baseline', 'central').style('font-family', tbFont).attr('font-size', 22)
  .attr('fill', '#666').text('-');

// ---- chart panels ----
var x = d3.scaleTime().domain([parseDay(dateRange[0]), parseDay(dateRange[1])]).range([plotL, plotR]);
var xTickDates = xTicks.map(parseDay);

var y1 = d3.scaleLinear().domain([-40, 40]).range([827.2, 489.8]);
var y2 = d3.scaleLinear().domain([2.75, 4.25]).range([1050, 862.7]);
var y3 = d3.scaleLinear().domain([-100, 100]).range([1236.7, 1085]);
var y4 = d3.scaleLinear().domain([-1, 1]).range([1422.7, 1271]);

function gridPanel(y, ticks, fmt, labelX) {
  var r = y.range();
  var top = r[1], bottom = r[0];
  var g = svg.append('g');
  var vg = g.append('g').attr('transform', 'translate(0,' + top + ')')
    .call(d3.axisBottom(x).tickValues(xTickDates).tickSize(bottom - top).tickFormat(''));
  vg.select('.domain').remove();
  vg.selectAll('line').attr('stroke', '#dcdcdc').attr('stroke-width', 1.5);

  var hg = g.append('g').attr('class', 'axis').attr('transform', 'translate(' + plotL + ',0)')
    .call(d3.axisRight(y).tickValues(ticks).tickSize(plotR - plotL).tickFormat(fmt));
  hg.select('.domain').remove();
  hg.selectAll('line').attr('stroke', '#d6d6d6').attr('stroke-width', 2);
  hg.selectAll('text').attr('x', labelX - plotL).attr('dy', -4).attr('text-anchor', 'end');
  hg.selectAll('.tick').filter(function(d) { return d === ticks[ticks.length - 1]; }).select('text').remove();
  return g;
}

function zeroLine(y) {
  svg.append('line').attr('x1', plotL).attr('x2', plotR)
    .attr('y1', y(0) - 1.5).attr('y2', y(0) - 1.5)
    .attr('stroke', '#000').attr('stroke-width', 3);
}

// panel 1: returns
gridPanel(y1, retTicks, function(d) { return d + '%'; }, 2471);
svg.append('path').datum(retRows)
  .attr('d', d3.area().x(function(d) { return x(d.date); }).y0(y1(0)).y1(function(d) { return y1(d.strat); }))
  .attr('fill', '#4572a7').attr('fill-opacity', 0.19);
zeroLine(y1);
svg.append('path').datum(retRows)
  .attr('d', d3.line().x(function(d) { return x(d.date); }).y(function(d) { return y1(d.strat); }))
  .attr('fill', 'none').attr('stroke', '#4572a7').attr('stroke-width', 3.2).attr('stroke-linejoin', 'round');
svg.append('path').datum(retRows)
  .attr('d', d3.line().x(function(d) { return x(d.date); }).y(function(d) { return y1(d.bench); }))
  .attr('fill', 'none').attr('stroke', '#aa4643').attr('stroke-width', 3.2).attr('stroke-linejoin', 'round');

drawdownDates.forEach(function(s) {
  var r = retRows[retDates.indexOf(s)];
  var cx = x(r.date), cy = y1(r.strat);
  svg.append('circle').attr('cx', cx).attr('cy', cy).attr('r', 9)
    .attr('fill', '#14b414').attr('stroke', '#93a46a').attr('stroke-width', 1.5);
  svg.append('line').attr('x1', cx).attr('x2', cx).attr('y1', cy - 6).attr('y2', cy + 6)
    .attr('stroke', '#d8f0c8').attr('stroke-width', 1.5);
});

// panel 2: leverage
gridPanel(y2, levTicks, function(d) { return String(d); }, 2471);
var levRows = levDates.map(function(d, i) { return { date: parseDay(d), v: levValues[i] }; });
svg.append('path').datum(levRows)
  .attr('d', d3.line().x(function(d) { return x(d.date); }).y(function(d) { return y2(d.v); }))
  .attr('fill', 'none').attr('stroke', '#89a54e').attr('stroke-width', 3.5).attr('stroke-linejoin', 'round');

// panel 3: trades
gridPanel(y3, tradeTicks, function(d) { return d + 'k'; }, 2474);
svg.append('g').selectAll('rect').data(barRows.filter(function(r) { return r.buy > 0; })).join('rect')
  .attr('x', function(r) { return x(r.date) - 1; }).attr('width', 2)
  .attr('y', function(r) { return y3(r.buy); })
  .attr('height', function(r) { return y3(0) - y3(r.buy); })
  .attr('fill', '#7e62a8');
svg.append('g').selectAll('rect').data(barRows.filter(function(r) { return r.sell > 0; })).join('rect')
  .attr('x', function(r) { return x(r.date) - 1; }).attr('width', 2)
  .attr('y', y3(0))
  .attr('height', function(r) { return y3(-r.sell) - y3(0); })
  .attr('fill', '#1fa3c9');
zeroLine(y3);

// panel 4: positions
gridPanel(y4, posTicks, function(d) { return d + 'M'; }, 2474);
svg.append('g').selectAll('rect').data(barRows.filter(function(r) { return r.lng > 0; })).join('rect')
  .attr('x', function(r) { return x(r.date) - 1.5; }).attr('width', 2.5)
  .attr('y', function(r) { return y4(r.lng); })
  .attr('height', function(r) { return y4(0) - y4(r.lng); })
  .attr('fill', '#e8872c');
svg.append('g').selectAll('rect').data(barRows.filter(function(r) { return r.sht > 0; })).join('rect')
  .attr('x', function(r) { return x(r.date) - 0.5; }).attr('width', 2.5)
  .attr('y', y4(0))
  .attr('height', function(r) { return y4(-r.sht) - y4(0); })
  .attr('fill', '#a8746a');
zeroLine(y4);

// right edge axis lines of lower panels
[y2, y3, y4].forEach(function(y) {
  var r = y.range();
  svg.append('line').attr('x1', plotR).attr('x2', plotR).attr('y1', r[1]).attr('y2', r[0])
    .attr('stroke', '#c0d0e0').attr('stroke-width', 2);
});

// bottom time axis
var xa = svg.append('g').attr('class', 'axis').attr('transform', 'translate(0,' + y4.range()[0] + ')')
  .call(d3.axisBottom(x).tickValues(xTickDates).tickSize(14).tickSizeOuter(0).tickFormat(d3.timeFormat('%y-%m-%d')));
xa.select('.domain').attr('stroke', '#c0d0e0').attr('stroke-width', 2);
xa.selectAll('line').attr('stroke', '#c0d0e0').attr('stroke-width', 1.5);
xa.selectAll('text').attr('y', 21);

// floating button cut by the right edge
svg.append('circle').attr('cx', 2510).attr('cy', 1382).attr('r', 32)
  .attr('fill', '#fff').attr('stroke', '#4a8fe0').attr('stroke-width', 3);
</script>
</body>
</html>
